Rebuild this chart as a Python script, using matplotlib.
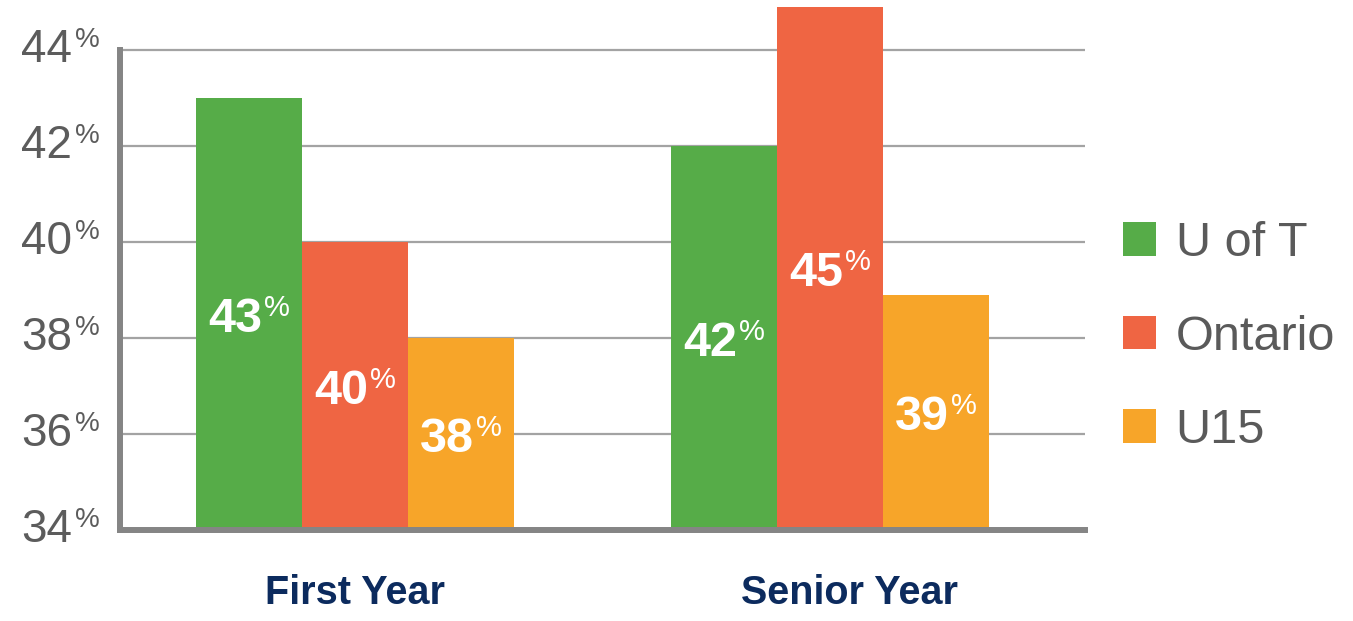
import matplotlib
matplotlib.use("Agg")
import matplotlib.pyplot as plt
import matplotlib.transforms as mtransforms
from matplotlib.patches import Patch
import numpy as np

# ---- data ----
categories = ["First Year", "Senior Year"]
series_names = ["U of T", "Ontario", "U15"]
uoft_values = [43.0, 42.0]
ontario_values = [40.0, 44.9]
u15_values = [38.0, 38.9]
value_labels = [["43", "42"], ["40", "45"], ["38", "39"]]
y_ticks = [34, 36, 38, 40, 42, 44]
colors = ["#56ac48", "#ef6543", "#f7a529"]

series_values = [uoft_values, ontario_values, u15_values]

fig = plt.figure(figsize=(13.53, 6.21), dpi=100)
ax = fig.add_axes([120 / 1353, 91 / 621, 965 / 1353, 528 / 621])

x = np.arange(len(categories))
w = 0.223
ymin = 34
ax.set_ylim(34, 45)
ax.set_xlim(-0.495, 1.537)

grid_color = "#a3a3a3"
for t in y_ticks[1:]:
    ax.axhline(t, color=grid_color, lw=1.6, zorder=0)

bars = []
for i, vals in enumerate(series_values):
    b = ax.bar(x + (i - 1) * w, np.array(vals) - ymin, width=w, bottom=ymin,
               color=colors[i], zorder=2, clip_on=False, label=series_names[i])
    bars.append(b)

# spines
for s in ["top", "right"]:
    ax.spines[s].set_visible(False)
spine_color = "#858585"
ax.spines["left"].set_color(spine_color)
ax.spines["left"].set_linewidth(4.3)
ax.spines["left"].set_bounds(34, 44)
ax.spines["bottom"].set_color(spine_color)
ax.spines["bottom"].set_linewidth(4.3)
ax.spines["left"].set_zorder(3)
ax.spines["bottom"].set_zorder(3)

ax.set_yticks(y_ticks)
ax.set_yticklabels([])
ax.tick_params(axis="y", length=0)

ax.set_xticks(x)
ax.set_xticklabels(categories, fontsize=28.5, fontweight="bold", color="#0c2b5e",
                   family="Liberation Sans")
ax.tick_params(axis="x", length=0, pad=32)
# the second category label sits slightly right of its group centre
xlabel_shift_px = [0, 20]
for lbl, dx in zip(ax.get_xticklabels(), xlabel_shift_px):
    lbl.set_transform(lbl.get_transform() +
                      mtransforms.ScaledTranslation(dx / 100, 0, fig.dpi_scale_trans))

# y tick labels with superscript %
tick_color = "#5c5c5c"
ytrans = ax.get_yaxis_transform()
for t in y_ticks:
    tr1 = mtransforms.offset_copy(ytrans, fig=fig, x=-48, y=-12, units="dots")
    ax.text(0, t, str(t), transform=tr1, ha="right", va="baseline",
            fontsize=33, color=tick_color, family="Liberation Sans")
    tr2 = mtransforms.offset_copy(ytrans, fig=fig, x=-45, y=3, units="dots")
    ax.text(0, t, "%", transform=tr2, ha="left", va="baseline",
            fontsize=20, color=tick_color, family="Liberation Sans")

# value labels inside bars
fig.canvas.draw()
renderer = fig.canvas.get_renderer()
main_size = 35
sup_size = 21
cap_px = 0.72 * main_size * 100 / 72
for i, vals in enumerate(series_values):
    for j, v in enumerate(vals):
        xc = x[j] + (i - 1) * w
        yc = (ymin + v) / 2
        t1 = ax.text(xc, yc, value_labels[i][j], ha="left", va="baseline",
                     fontsize=main_size, fontweight="bold", color="white",
                     family="Liberation Sans", zorder=4)
        t2 = ax.text(xc, yc, "%", ha="left", va="baseline",
                     fontsize=sup_size, color="white",
                     family="Liberation Sans", zorder=4)
        w1 = t1.get_window_extent(renderer).width
        w2 = t2.get_window_extent(renderer).width
        total = w1 + w2 + 2
        t1.set_transform(mtransforms.offset_copy(ax.transData, fig=fig,
                         x=-total / 2, y=-cap_px / 2, units="dots"))
        sup_h = 0.72 * sup_size * 100 / 72
        t2.set_transform(mtransforms.offset_copy(ax.transData, fig=fig,
                         x=-total / 2 + w1 + 2, y=cap_px / 2 - sup_h + 2, units="dots"))

# legend
handles = [Patch(facecolor=c, edgecolor="none") for c in colors]
leg = fig.legend(handles, series_names, loc="center left",
                 bbox_to_anchor=(1123 / 1353, 1 - 337 / 621),
                 frameon=False, handlelength=0.68, handleheight=0.68,
                 handletextpad=0.4, labelspacing=1.0, borderpad=0, borderaxespad=0,
                 prop={"family": "Liberation Sans", "size": 35})
for txt in leg.get_texts():
    txt.set_color("#5a5a5a")

fig.savefig("out.png", dpi=100)
